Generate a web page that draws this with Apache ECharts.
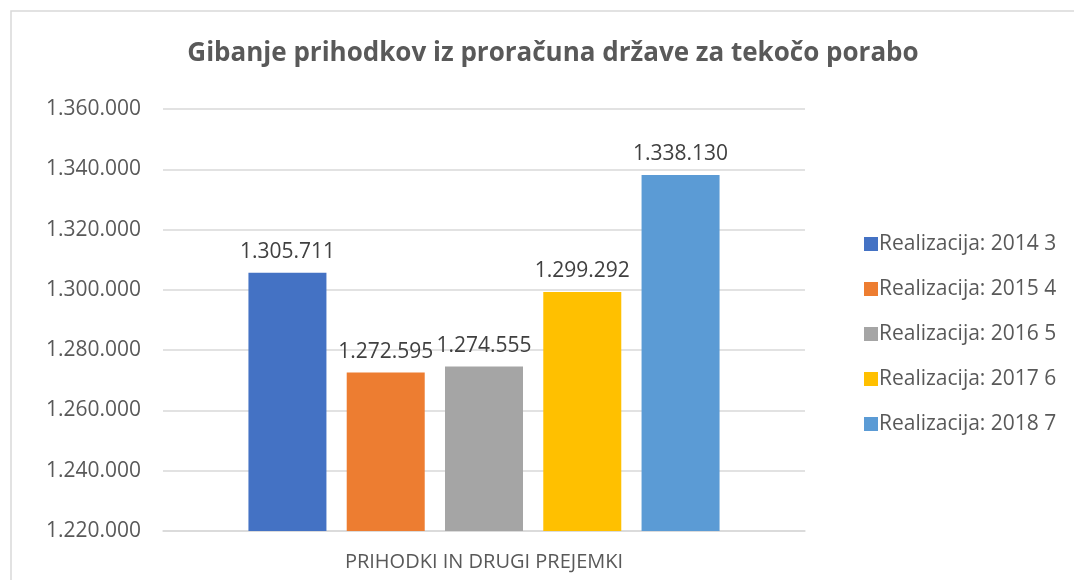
<!DOCTYPE html>
<html>
<head>
<meta charset="utf-8">
<script src="https://cdn.jsdelivr.net/npm/echarts@6/dist/echarts.min.js"></script>
<style>
  html, body { margin: 0; padding: 0; background: #fff; }
  #chart { width: 1074px; height: 580px; }
</style>
</head>
<body>
<div id="chart"></div>
<script>
var categories = ["PRIHODKI IN DRUGI PREJEMKI"];
var seriesNames = ["Realizacija: 2014 3", "Realizacija: 2015 4", "Realizacija: 2016 5", "Realizacija: 2017 6", "Realizacija: 2018 7"];
var seriesValues = [1305711, 1272595, 1274555, 1299292, 1338130];
var seriesColors = ["#4472C4", "#ED7D31", "#A5A5A5", "#FFC000", "#5B9BD5"];

function fmt(v) {
    return String(Math.round(v)).replace(/\B(?=(\d{3})+(?!\d))/g, ".");
}

var font = "'Open Sans', 'Liberation Sans', sans-serif";
var chart = echarts.init(document.getElementById("chart"));

var series = seriesNames.map(function (name, i) {
    return {
        name: name,
        type: "bar",
        data: [seriesValues[i]],
        barWidth: 78,
        barGap: "26%",
        itemStyle: {color: seriesColors[i]},
        label: {
            show: true,
            position: "top",
            distance: 10,
            color: "#404040",
            fontFamily: font,
            fontSize: 21,
            formatter: function (p) { return fmt(p.value); }
        }
    };
});

var option = {
    animation: false,
    title: {
        text: "Gibanje prihodkov iz proračuna države za tekočo porabo",
        left: 548,
        textAlign: "center",
        top: 36,
        textStyle: {color: "#595959", fontFamily: font, fontWeight: "bold", fontSize: 26}
    },
    graphic: [{
        type: "rect",
        shape: {x: 11, y: 11, width: 1200, height: 700},
        style: {fill: "none", stroke: "#D9D9D9", lineWidth: 1.5},
        silent: true
    }],
    legend: {
        orient: "vertical",
        left: 859,
        top: 227,
        itemWidth: 14,
        itemHeight: 14,
        itemGap: 21,
        icon: "rect",
        textStyle: {color: "#595959", fontFamily: font, fontSize: 21, lineHeight: 24, padding: [0, 0, 0, -4]},
        data: seriesNames
    },
    grid: {left: 163, right: 269, top: 109, bottom: 49, containLabel: false},
    xAxis: {
        type: "category",
        data: categories,
        axisLine: {lineStyle: {color: "#D9D9D9", width: 1.5}},
        axisTick: {show: false},
        axisLabel: {color: "#595959", fontFamily: font, fontSize: 20, margin: 21}
    },
    yAxis: {
        type: "value",
        min: 1220000,
        max: 1360000,
        interval: 20000,
        axisLine: {show: false},
        axisTick: {show: false},
        splitLine: {lineStyle: {color: "#D9D9D9", width: 1.5}},
        axisLabel: {color: "#595959", fontFamily: font, fontSize: 21, margin: 22, formatter: fmt}
    },
    series: series
};
chart.setOption(option);
</script>
</body>
</html>
